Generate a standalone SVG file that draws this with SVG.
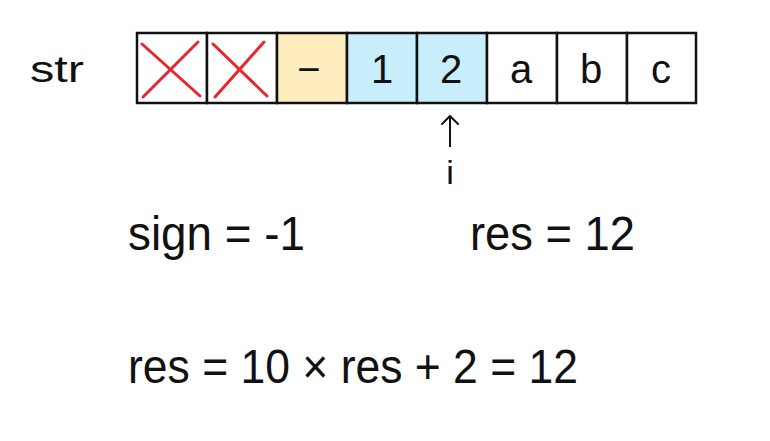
<svg xmlns="http://www.w3.org/2000/svg" width="770" height="441" viewBox="0 0 770 441">
<style>
text{font-family:"Liberation Sans",Arial,sans-serif;fill:#111}
.cell{stroke:#111;stroke-width:2.5}
.ch{font-size:40px;text-anchor:middle}
.x{stroke:#e8262b;stroke-width:3;stroke-linecap:round}
.big{font-size:48px}
</style>
<defs>
<marker id="ah" viewBox="0 0 20 20" refX="13" refY="10" markerWidth="20" markerHeight="20" markerUnits="userSpaceOnUse" orient="auto">
<path d="M5,2 L13,10 L5,18" fill="none" stroke="#111" stroke-width="2" stroke-linecap="round" stroke-linejoin="round"/>
</marker>
</defs>
<rect width="770" height="441" fill="#fff"/>
<text x="30" y="82" font-size="36" textLength="54" lengthAdjust="spacingAndGlyphs">str</text>
<g id="array">
<rect class="cell" x="137" y="33" width="70" height="70" fill="#fff"/>
<rect class="cell" x="207" y="33" width="70" height="70" fill="#fff"/>
<rect class="cell" x="277" y="33" width="70" height="70" fill="#ffecbf"/>
<rect class="cell" x="347" y="33" width="70" height="70" fill="#c9eefb"/>
<rect class="cell" x="417" y="33" width="70" height="70" fill="#c9eefb"/>
<rect class="cell" x="487" y="33" width="70" height="70" fill="#fff"/>
<rect class="cell" x="557" y="33" width="70" height="70" fill="#fff"/>
<rect class="cell" x="627" y="33" width="69" height="70" fill="#fff"/>
<line class="x" x1="142" y1="44" x2="200" y2="96"/>
<line class="x" x1="198" y1="42" x2="143" y2="97"/>
<line class="x" x1="213" y1="44" x2="267" y2="96"/>
<line class="x" x1="264" y1="42" x2="215" y2="97"/>
<text class="ch" x="309" y="83">−</text>
<text class="ch" x="382" y="83">1</text>
<text class="ch" x="451" y="83">2</text>
<text class="ch" x="521" y="83">a</text>
<text class="ch" x="591" y="83">b</text>
<text class="ch" x="661" y="83">c</text>
</g>
<g id="connectors">
<line x1="450" y1="147" x2="450" y2="116" stroke="#111" stroke-width="2" marker-end="url(#ah)"/>
</g>
<text x="450" y="184" font-size="34" text-anchor="middle">i</text>
<text class="big" x="128" y="250" textLength="177" lengthAdjust="spacingAndGlyphs">sign = -1</text>
<text class="big" x="470" y="250" textLength="165" lengthAdjust="spacingAndGlyphs">res = 12</text>
<text class="big" x="128" y="383" textLength="450" lengthAdjust="spacingAndGlyphs">res = 10 × res + 2 = 12</text>
</svg>
